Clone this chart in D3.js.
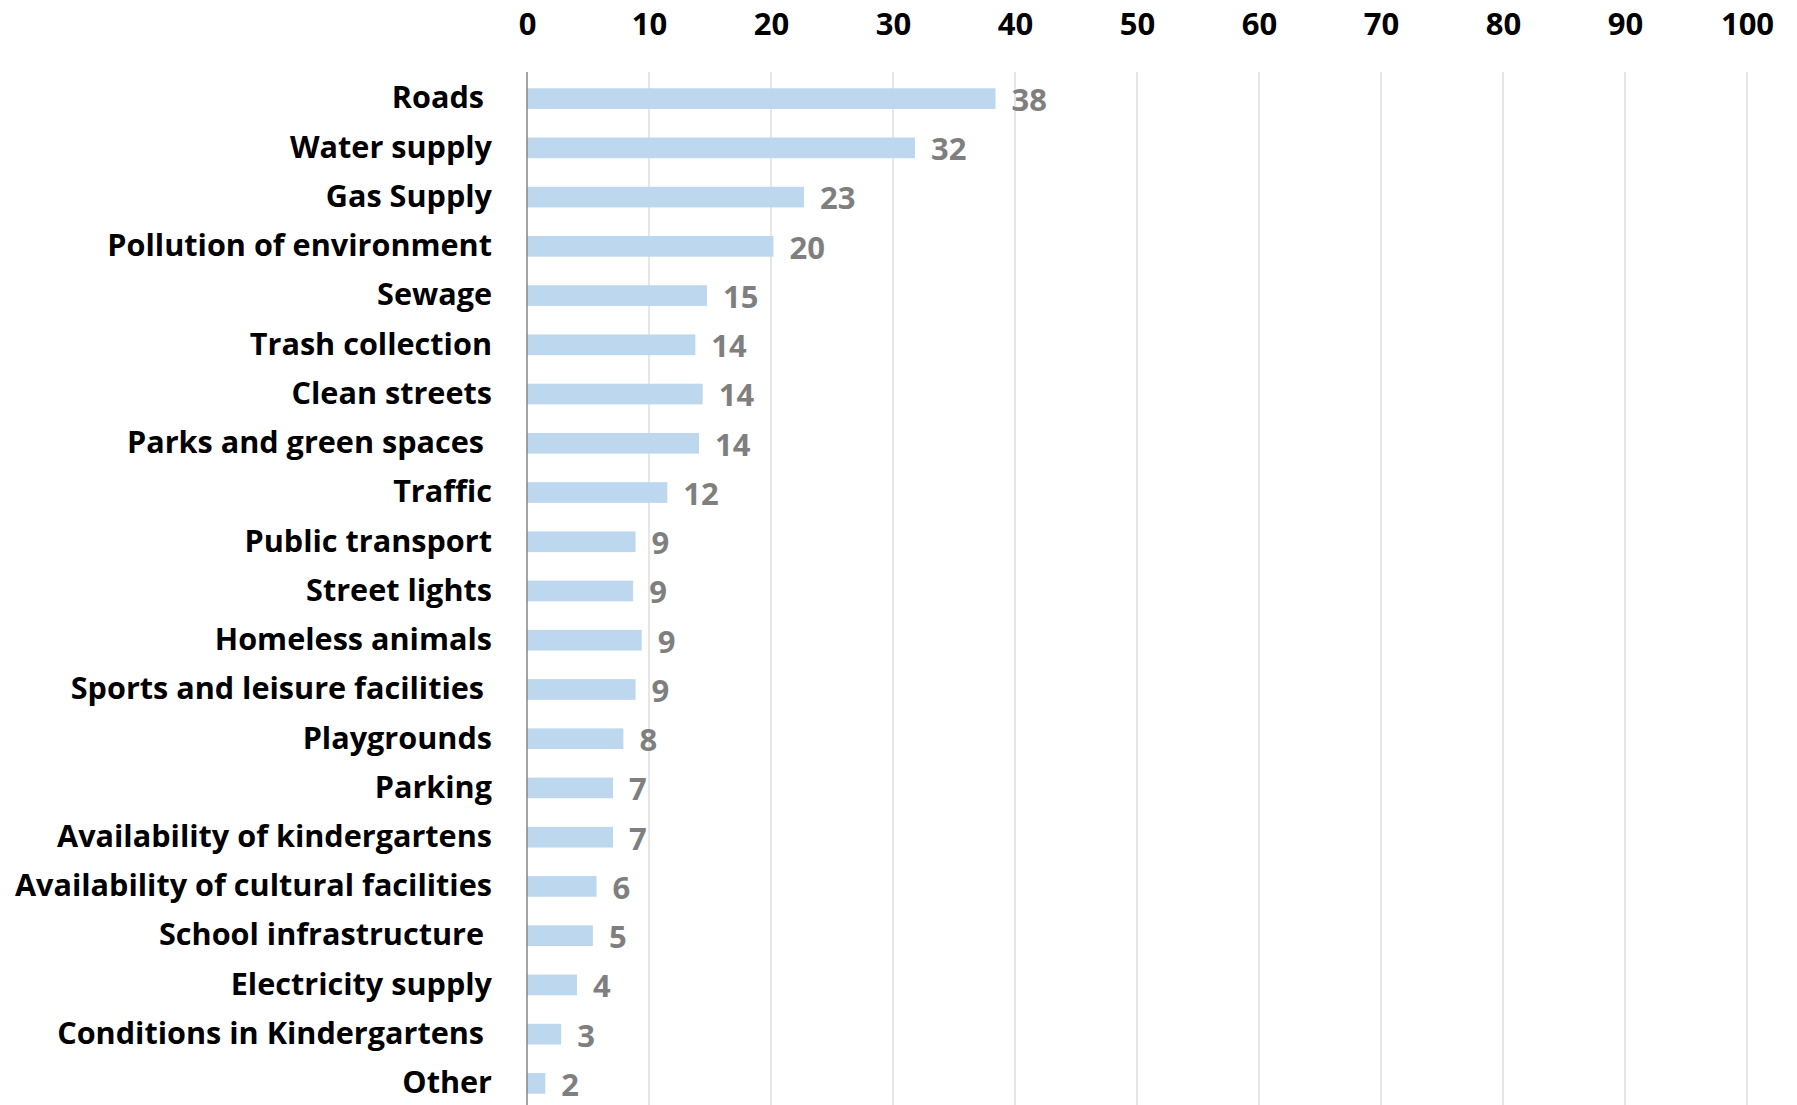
<!DOCTYPE html>
<html>
<head>
<meta charset="utf-8">
<script src="https://cdn.jsdelivr.net/npm/d3@7"></script>
<style>
  html, body { margin: 0; padding: 0; background: #fff; }
  svg { display: block; }
  text { font-family: "Open Sans", Lato, sans-serif; font-weight: bold; white-space: pre; }
</style>
</head>
<body>
<svg id="chart" width="1797" height="1105"></svg>
<script>
const categories = [
  "Roads ", "Water supply", "Gas Supply", "Pollution of environment", "Sewage",
  "Trash collection", "Clean streets", "Parks and green spaces ", "Traffic",
  "Public transport", "Street lights", "Homeless animals", "Sports and leisure facilities ",
  "Playgrounds", "Parking", "Availability of kindergartens", "Availability of cultural facilities",
  "School infrastructure ", "Electricity supply", "Conditions in Kindergartens ", "Other"
];
const values = [38.4, 31.8, 22.7, 20.2, 14.75, 13.8, 14.4, 14.1, 11.5, 8.9, 8.7, 9.4, 8.9, 7.9, 7.05, 7.05, 5.7, 5.4, 4.1, 2.8, 1.5];
const valueLabels = ["38", "32", "23", "20", "15", "14", "14", "14", "12", "9", "9", "9", "9", "8", "7", "7", "6", "5", "4", "3", "2"];
const tickValues = [0, 10, 20, 30, 40, 50, 60, 70, 80, 90, 100];

const FONT = "'Open Sans', Lato, sans-serif";
const svg = d3.select("#chart");
const x = d3.scaleLinear().domain([0, 100]).range([527, 1747]);
const y = d3.scaleBand().domain(categories).range([74, 1108]).paddingInner(0.58).paddingOuter(0.29);
const gridTop = 72, gridBottom = 1105;

// gridlines
svg.append("g").selectAll("line").data(tickValues.slice(1)).join("line")
  .attr("x1", d => x(d)).attr("x2", d => x(d))
  .attr("y1", gridTop).attr("y2", gridBottom)
  .attr("stroke", "#d9d9d9").attr("stroke-width", 1.3);

// top axis tick labels
const xAxis = d3.axisTop(x).tickValues(tickValues).tickSize(0).tickPadding(0).tickFormat(d3.format("d"));
const gx = svg.append("g").attr("transform", "translate(0,35)").call(xAxis);
gx.select(".domain").remove();
gx.selectAll("text").attr("font-size", 31).attr("fill", "#000")
  .attr("font-family", FONT).attr("font-weight", "bold").attr("dy", "0");

// bars
svg.append("g").selectAll("rect").data(values).join("rect")
  .attr("x", x(0)).attr("y", (d, i) => y(categories[i]))
  .attr("width", d => x(d) - x(0)).attr("height", y.bandwidth())
  .attr("fill", "#bdd7ee");

// value axis line
svg.append("line").attr("x1", x(0)).attr("x2", x(0)).attr("y1", gridTop).attr("y2", gridBottom)
  .attr("stroke", "#868686").attr("stroke-width", 1.5);

// value labels
svg.append("g").selectAll("text").data(values).join("text")
  .attr("x", d => x(d) + 16).attr("y", (d, i) => y(categories[i]) + y.bandwidth() / 2)
  .attr("dy", "0.4em").attr("font-size", 31).attr("fill", "#7f7f7f")
  .attr("font-family", FONT)
  .text((d, i) => valueLabels[i]);

// category labels
const yAxis = d3.axisLeft(y).tickSize(0).tickPadding(0);
const gy = svg.append("g").attr("transform", "translate(492,0)").call(yAxis);
gy.select(".domain").remove();
gy.selectAll("text").attr("font-size", 30.6).attr("fill", "#000")
  .attr("font-family", FONT).attr("font-weight", "bold")
  .attr("style", "white-space: pre");
</script>
</body>
</html>
